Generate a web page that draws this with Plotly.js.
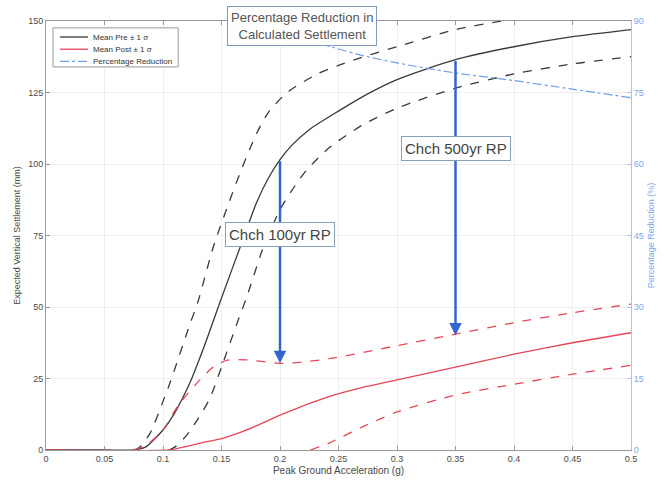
<!DOCTYPE html>
<html>
<head>
<meta charset="utf-8">
<script src="https://cdn.plot.ly/plotly-3.0.1.min.js"></script>
<style>html,body{margin:0;padding:0;background:#fff;}#chart{width:672px;height:484px;}</style>
</head>
<body>
<div id="chart"></div>
<script>
// Mean Pre (black solid)
const preX = [0, 0.05, 0.075, 0.085, 0.1, 0.11, 0.123, 0.135, 0.149, 0.166, 0.18, 0.19, 0.2, 0.21, 0.225, 0.25, 0.275, 0.3, 0.35, 0.4, 0.45, 0.5];
const preY = [0, 0, 0, 1, 7, 13, 23.5, 36, 52, 71, 86.5, 95, 101.5, 106.5, 112, 118.5, 124.5, 129.5, 136.5, 141, 144.5, 147];
// Mean Pre + 1 sigma (black dashed)
const preUpX = [0.075, 0.08, 0.089, 0.1, 0.106, 0.123, 0.13, 0.143, 0.155, 0.166, 0.175, 0.181, 0.19, 0.206, 0.232, 0.25, 0.27, 0.3, 0.35, 0.39, 0.45, 0.5];
const preUpY = [0, 1, 5.9, 17, 23.5, 44, 52, 71, 85, 97, 106, 111.5, 118, 125, 131.5, 134.5, 137.3, 141, 147, 150, 154, 157];
// Mean Pre - 1 sigma (black dashed)
const preLoX = [0.105, 0.11, 0.12, 0.13, 0.14, 0.15, 0.163, 0.172, 0.185, 0.2, 0.213, 0.223, 0.243, 0.27, 0.3, 0.35, 0.4, 0.45, 0.5];
const preLoY = [0, 1, 5, 11, 18, 29, 44, 54, 70, 84, 92.5, 98, 106, 113.5, 119.5, 126.5, 131.5, 135, 137.5];
// Mean Post (red solid)
const postX = [0, 0.105, 0.115, 0.133, 0.15, 0.165, 0.18, 0.2, 0.214, 0.243, 0.27, 0.3, 0.35, 0.4, 0.45, 0.5];
const postY = [0, 0, 0.8, 2.5, 4, 6, 8.5, 12.2, 14.5, 18.8, 21.8, 24.5, 29, 33.5, 37.5, 41];
// Mean Post + 1 sigma (red dashed)
const postUpX = [0.075, 0.085, 0.1, 0.112, 0.129, 0.143, 0.155, 0.172, 0.2, 0.22, 0.243, 0.27, 0.3, 0.35, 0.4, 0.45, 0.5];
const postUpY = [0, 1.5, 7, 15, 23.4, 29, 31.4, 31.5, 30.3, 30.8, 32, 34, 36.5, 40.5, 44.5, 48, 51];
// Mean Post - 1 sigma (red dashed)
const postLoX = [0.226, 0.235, 0.243, 0.25, 0.27, 0.3, 0.35, 0.4, 0.45, 0.5];
const postLoY = [0, 1.3, 2.6, 4, 8, 13.3, 19.2, 23, 26.5, 29.6];
// Percentage reduction (right axis)
const pctX = [0.18, 0.2, 0.22, 0.245, 0.27, 0.3, 0.35, 0.4, 0.45, 0.5];
const pctY = [92, 89, 86.5, 84.5, 82.8, 81.2, 79.1, 77.5, 75.7, 73.9];
// Annotated return periods (arrows)
const rpLabels = ['Chch 100yr RP', 'Chch 500yr RP'];
const rpX = [0.2, 0.35];
const rpTop = [101.5, 136.5];
const rpBottom = [30.3, 40];
const rpLabelY = [75.5, 105.5];
// Legend entries
const legendNames = ['Mean Pre \u00b1 1 \u03c3', 'Mean Post \u00b1 1 \u03c3', 'Percentage Reduction'];

const black = '#3a3a3a', red = '#e5475a', blue = '#6f9fe6', arrowBlue = '#3366cc';
const axisGray = '#9a9a9a', txt = '#4a4a4a';
const legendColors = [black, red, blue];
const legendDash = ['solid', 'solid', 'dashdot'];
const sp = {shape: 'spline', smoothing: 0.7};

const traces = [
  {x: preX, y: preY, mode: 'lines', name: legendNames[0], line: Object.assign({color: black, width: 1.3}, sp)},
  {x: preUpX, y: preUpY, mode: 'lines', line: Object.assign({color: black, width: 1.3, dash: 'dash'}, sp)},
  {x: preLoX, y: preLoY, mode: 'lines', line: Object.assign({color: black, width: 1.3, dash: 'dash'}, sp)},
  {x: postX, y: postY, mode: 'lines', name: legendNames[1], line: Object.assign({color: red, width: 1.3}, sp)},
  {x: postUpX, y: postUpY, mode: 'lines', line: Object.assign({color: red, width: 1.3, dash: 'dash'}, sp)},
  {x: postLoX, y: postLoY, mode: 'lines', line: Object.assign({color: red, width: 1.3, dash: 'dash'}, sp)},
  {x: pctX, y: pctY, yaxis: 'y2', mode: 'lines', name: legendNames[2], line: Object.assign({color: blue, width: 1.2, dash: 'dashdot'}, sp)}
];

const annotations = [];
const shapes = [];
for (let i = 0; i < rpX.length; i++) {
  annotations.push({x: rpX[i], y: rpBottom[i], ax: rpX[i], ay: rpTop[i], xref: 'x', yref: 'y', axref: 'x', ayref: 'y',
    text: '', showarrow: true, arrowhead: 2, arrowsize: 1, arrowwidth: 2.5, arrowcolor: arrowBlue, standoff: 0, startstandoff: 0});
}
for (let i = 0; i < rpX.length; i++) {
  annotations.push({x: rpX[i], y: rpLabelY[i], xref: 'x', yref: 'y', text: rpLabels[i], showarrow: false,
    font: {family: 'Liberation Sans, Arial, sans-serif', size: 15, color: '#444'},
    bgcolor: '#ffffff', bordercolor: '#8aa0b8', borderwidth: 1, borderpad: 3});
}
annotations.push({x: 0.219, y: 148.2, xref: 'x', yref: 'y', text: 'Percentage Reduction in<br>Calculated Settlement', showarrow: false,
  font: {family: 'Liberation Sans, Arial, sans-serif', size: 13, color: '#555'},
  bgcolor: '#ffffff', bordercolor: '#7f9cbf', borderwidth: 1, borderpad: 3});

// compact legend box (MATLAB style)
const lgX0 = 0.012, lgX1 = 0.226, lgY0 = 0.893, lgY1 = 0.984;
shapes.push({type: 'rect', xref: 'paper', yref: 'paper', x0: lgX0, x1: lgX1, y0: lgY0, y1: lgY1,
  line: {color: '#999', width: 1}, fillcolor: '#fff', layer: 'above'});
for (let i = 0; i < legendNames.length; i++) {
  const yy = 0.9627 - i * 0.0285;
  shapes.push({type: 'line', xref: 'paper', yref: 'paper', x0: 0.024, x1: 0.0718, y0: yy, y1: yy,
    line: {color: legendColors[i], width: 1.3, dash: legendDash[i]}, layer: 'above'});
  annotations.push({xref: 'paper', yref: 'paper', x: 0.077, y: yy, xanchor: 'left', yanchor: 'middle', showarrow: false,
    text: legendNames[i], font: {size: 8, color: '#333'}});
}

const layout = {
  width: 672, height: 484,
  margin: {l: 46, r: 41, t: 21, b: 34},
  paper_bgcolor: '#fff', plot_bgcolor: '#fff',
  font: {family: 'Liberation Sans, Arial, sans-serif', size: 9, color: txt},
  showlegend: false,
  xaxis: {range: [0, 0.5], dtick: 0.05, showgrid: true, gridcolor: '#efefef', zeroline: false,
    showline: true, linecolor: axisGray, mirror: 'ticks', ticks: 'inside', ticklen: 4, tickcolor: axisGray,
    title: {text: 'Peak Ground Acceleration (g)', font: {size: 10, color: txt}, standoff: 4}},
  yaxis: {range: [0, 150], dtick: 25, showgrid: true, gridcolor: '#efefef', zeroline: false,
    showline: true, linecolor: axisGray, ticks: 'inside', ticklen: 4, tickcolor: axisGray,
    title: {text: 'Expected Vertical Settlement (mm)', font: {size: 9, color: txt}, standoff: 6}},
  yaxis2: {range: [0, 90], dtick: 15, overlaying: 'y', side: 'right', showgrid: false, zeroline: false,
    showline: true, linecolor: '#a9c4ee', ticks: 'inside', ticklen: 4, tickcolor: '#a9c4ee',
    tickfont: {color: '#7fa6ea', size: 9},
    title: {text: 'Percentage Reduction (%)', font: {size: 9, color: '#7fa6ea'}, standoff: 4}},
  shapes: shapes,
  annotations: annotations
};

Plotly.newPlot('chart', traces, layout, {displayModeBar: false, staticPlot: true});
</script>
</body>
</html>
